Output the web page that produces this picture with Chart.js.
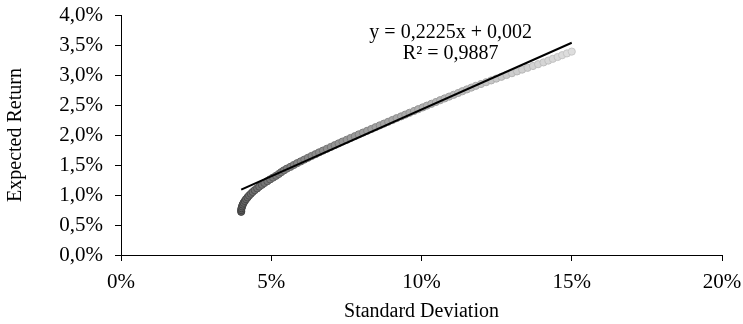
<!DOCTYPE html>
<html>
<head>
<meta charset="utf-8">
<script src="https://cdn.jsdelivr.net/npm/chart.js@4.4.1/dist/chart.umd.min.js"></script>
<style>
  html, body { margin: 0; padding: 0; background: #fff; }
  canvas { display: block; }
</style>
</head>
<body>
<canvas id="frontier" width="743" height="324"></canvas>
<script>
// efficient frontier, values in %
var sdev = [
  4.00, 4.00, 4.01, 4.03, 4.05, 4.08, 4.12, 4.16, 4.21, 4.26,
  4.32, 4.38, 4.45, 4.53, 4.60, 4.69, 4.77, 4.87, 4.96, 5.06,
  5.16, 5.25, 5.33, 5.42, 5.52, 5.64, 5.75, 5.86, 5.98, 6.10,
  6.22, 6.34, 6.47, 6.59, 6.72, 6.85, 6.98, 7.11, 7.24, 7.37,
  7.51, 7.64, 7.78, 7.91, 8.05, 8.19, 8.33, 8.47, 8.61, 8.75,
  8.89, 9.03, 9.17, 9.32, 9.46, 9.60, 9.75, 9.89, 10.04, 10.18,
  10.33, 10.48, 10.62, 10.77, 10.92, 11.07, 11.22, 11.36, 11.51, 11.66,
  11.81, 11.98, 12.15, 12.32, 12.49, 12.66, 12.83, 13.01, 13.18, 13.35,
  13.53, 13.71, 13.88, 14.06, 14.22, 14.37, 14.53, 14.68, 14.84, 15.00
];
var ret = [
  0.72, 0.75, 0.78, 0.81, 0.84, 0.87, 0.90, 0.93, 0.96, 0.99,
  1.02, 1.05, 1.08, 1.11, 1.14, 1.17, 1.20, 1.23, 1.26, 1.29,
  1.32, 1.35, 1.38, 1.41, 1.44, 1.47, 1.50, 1.53, 1.56, 1.59,
  1.62, 1.65, 1.68, 1.71, 1.74, 1.77, 1.80, 1.83, 1.86, 1.89,
  1.92, 1.95, 1.98, 2.01, 2.04, 2.07, 2.10, 2.13, 2.16, 2.19,
  2.22, 2.25, 2.28, 2.31, 2.34, 2.37, 2.40, 2.43, 2.46, 2.49,
  2.52, 2.55, 2.58, 2.61, 2.64, 2.67, 2.70, 2.73, 2.76, 2.79,
  2.82, 2.85, 2.88, 2.91, 2.94, 2.97, 3.00, 3.03, 3.06, 3.09,
  3.12, 3.15, 3.18, 3.21, 3.24, 3.27, 3.30, 3.33, 3.36, 3.39
];
// trendline as printed on the chart (y = 0,2225x + 0,002)
var slope = 0.2225;
var intercept = 0.2;
var eqLines = ['y = 0,2225x + 0,002', 'R² = 0,9887'];

var xTicks = [0, 5, 10, 15, 20];
var yTicks = [0, 0.5, 1, 1.5, 2, 2.5, 3, 3.5, 4];

var FONT = '"Liberation Serif", "Times New Roman", serif';

var points = sdev.map(function (s, i) { return { x: s, y: ret[i] }; });
var xMin = Math.min.apply(null, sdev);
var xMax = Math.max.apply(null, sdev);
var trend = [
  { x: xMin, y: slope * xMin + intercept },
  { x: xMax, y: slope * xMax + intercept }
];

function shade(i, from, to) {
  var t = i / (points.length - 1);
  var v = Math.round(from + (to - from) * t);
  return 'rgb(' + v + ',' + v + ',' + v + ')';
}

var equationLabel = {
  id: 'equationLabel',
  afterDraw: function (chart) {
    var ctx = chart.ctx;
    var xs = chart.scales.x, ys = chart.scales.y;
    var cx = xs.getPixelForValue(10.97);
    ctx.save();
    ctx.font = '20px ' + FONT;
    ctx.fillStyle = '#000';
    ctx.textAlign = 'center';
    ctx.textBaseline = 'middle';
    ctx.fillText(eqLines[0], cx, ys.getPixelForValue(3.71));
    ctx.fillText(eqLines[1], cx, ys.getPixelForValue(3.36));
    ctx.restore();
  }
};

new Chart(document.getElementById('frontier'), {
  type: 'scatter',
  data: {
    datasets: [{
      type: 'line',
      data: trend,
      borderColor: '#000',
      borderWidth: 2,
      pointRadius: 0,
      fill: false
    }, {
      data: points,
      pointRadius: 3.6,
      borderWidth: 1,
      backgroundColor: function (c) { return shade(c.dataIndex, 95, 222); },
      borderColor: function (c) { return shade(c.dataIndex, 60, 200); }
    }]
  },
  options: {
    responsive: false,
    animation: false,
    layout: { padding: { top: 15, right: 21, bottom: 0, left: 0 } },
    plugins: {
      legend: { display: false },
      tooltip: { enabled: false }
    },
    scales: {
      x: {
        type: 'linear',
        min: 0,
        max: 20,
        afterBuildTicks: function (s) { s.ticks = xTicks.map(function (v) { return { value: v }; }); },
        afterFit: function (s) {
          s.height = 69;
          s.paddingLeft = 0;
          s.paddingRight = 0;
        },
        grid: { drawOnChartArea: false, tickLength: 6, color: '#000' },
        border: { color: '#000', width: 1 },
        ticks: {
          padding: 9,
          color: '#000',
          font: { family: FONT, size: 21 },
          callback: function (v) { return v + '%'; }
        },
        title: {
          display: true,
          text: 'Standard Deviation',
          color: '#000',
          font: { family: FONT, size: 20 },
          padding: { top: 0, bottom: 0 }
        }
      },
      y: {
        min: 0,
        max: 4,
        afterBuildTicks: function (s) { s.ticks = yTicks.map(function (v) { return { value: v }; }); },
        afterFit: function (s) {
          s.width = 121;
          s.paddingTop = 0;
          s.paddingBottom = 0;
        },
        grid: { drawOnChartArea: false, tickLength: 6, color: '#000' },
        border: { color: '#000', width: 1 },
        ticks: {
          padding: 12,
          color: '#000',
          font: { family: FONT, size: 21 },
          callback: function (v) { return v.toFixed(1).replace('.', ',') + '%'; }
        },
        title: {
          display: true,
          text: 'Expected Return',
          color: '#000',
          font: { family: FONT, size: 20 },
          padding: { top: 4, bottom: 0 }
        }
      }
    }
  },
  plugins: [equationLabel]
});
</script>
</body>
</html>
